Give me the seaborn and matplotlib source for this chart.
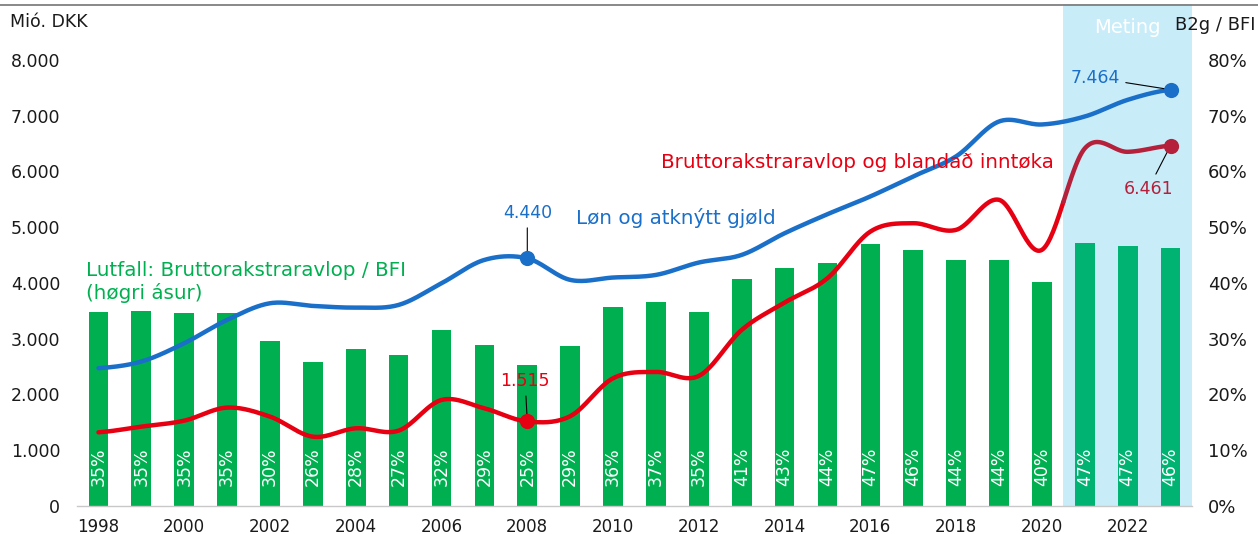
import numpy as np
import pandas as pd
import matplotlib
matplotlib.use("Agg")
import matplotlib.pyplot as plt
from matplotlib.lines import Line2D
import seaborn as sns

# Data (Mió. DKK and share in %)
years = list(range(1998, 2024))
lon = [2470, 2590, 2918, 3336, 3635, 3587, 3557, 3605, 3994, 4412, 4440, 4054, 4096,
       4143, 4365, 4502, 4890, 5232, 5550, 5910, 6269, 6894, 6840, 6983, 7282, 7464]
brutto = [1321, 1423, 1530, 1764, 1603, 1243, 1393, 1351, 1901, 1751, 1515, 1610, 2290,
          2404, 2332, 3157, 3647, 4084, 4920, 5070, 4951, 5489, 4592, 6411, 6350, 6461]
share = [34.7, 35.0, 34.6, 34.6, 29.6, 25.8, 28.2, 27.1, 31.6, 28.9, 25.3, 28.6, 35.6,
         36.6, 34.7, 40.7, 42.7, 43.6, 46.9, 45.9, 44.1, 44.1, 40.1, 47.1, 46.6, 46.2]
tick_years = [str(y) for y in years[::2]]
n_meting = 3

BLUE = '#1A6FC9'
RED = '#E60012'
DARKRED = '#B5203A'
GREEN = '#00B050'
GREEN_M = '#00B372'
SPAN = '#C9ECF9'
TXT = '#1A1A1A'


def smooth(vals, n=30):
    # Excel-style smoothed line (Catmull-Rom through the yearly values)
    xs, ys = [], []
    m = len(vals)
    for i in range(m - 1):
        p0, p1 = vals[max(i - 1, 0)], vals[i]
        p2, p3 = vals[i + 1], vals[min(i + 2, m - 1)]
        for t in np.linspace(0, 1, n, endpoint=False):
            y = 0.5 * (2 * p1 + (-p0 + p2) * t + (2 * p0 - 5 * p1 + 4 * p2 - p3) * t ** 2
                       + (-p0 + 3 * p1 - 3 * p2 + p3) * t ** 3)
            xs.append(i + t)
            ys.append(y)
    xs.append(m - 1)
    ys.append(vals[-1])
    return np.array(xs), np.array(ys)


sns.set_style('white')
plt.rcParams['font.family'] = ['DejaVu Sans']

fig = plt.figure(figsize=(12.58, 5.34), dpi=100)
ax = fig.add_axes([77 / 1258, 28 / 534, 1115 / 1258, 502 / 534])
axr = ax.twinx()

# bars (right axis)
df = pd.DataFrame({'yr': [str(y) for y in years], 'share': share})
colors = [GREEN] * (len(years) - n_meting) + [GREEN_M] * n_meting
sns.barplot(data=df, x='yr', y='share', hue='yr', palette=colors, legend=False,
            width=0.46, saturation=1, linewidth=0, edgecolor='none', ax=axr, zorder=2)
axr.axvspan(len(years) - n_meting - 0.5, len(years) - 0.5, color=SPAN, zorder=0, lw=0)
for i, v in enumerate(share):
    axr.text(i, 3.6, f"{v:.0f}%", rotation=90, ha='center', va='bottom',
             color='white', fontsize=12.5, zorder=3)
axr.set_ylim(0, 90)
axr.set_yticks(range(0, 81, 10))
axr.set_yticklabels([f"{v}%" for v in range(0, 81, 10)])
axr.tick_params(axis='y', length=0, pad=11.5, labelsize=13, labelcolor=TXT)
axr.set_ylabel('')
axr.set_xlabel('')

# lines (left axis)
sx, sy = smooth(lon)
sns.lineplot(x=sx, y=sy, ax=ax, color=BLUE, linewidth=3.2, sort=False, estimator=None)
rx, ry = smooth(brutto)
cut = len(years) - n_meting - 0.5
sns.lineplot(x=rx[rx <= cut + 0.02], y=ry[rx <= cut + 0.02], ax=ax, color=RED,
             linewidth=3.2, sort=False, estimator=None)
sns.lineplot(x=rx[rx >= cut], y=ry[rx >= cut], ax=ax, color=DARKRED,
             linewidth=3.2, sort=False, estimator=None)

i08 = years.index(2008)
ax.scatter([i08, len(years) - 1], [lon[i08], lon[-1]], s=120, color=BLUE, zorder=5, lw=0)
ax.scatter([i08], [brutto[i08]], s=120, color=RED, zorder=5, lw=0)
ax.scatter([len(years) - 1], [brutto[-1]], s=120, color=DARKRED, zorder=5, lw=0)

lead = dict(arrowstyle='-', color='black', lw=0.8, shrinkA=2, shrinkB=0)
fmt = lambda v: f"{v:,.0f}".replace(',', '.')
ax.annotate(fmt(lon[i08]), xy=(i08, lon[i08]), xytext=(i08, 5256), ha='center', va='center',
            color=BLUE, fontsize=12.5, arrowprops=lead)
ax.annotate(fmt(brutto[i08]), xy=(i08, brutto[i08]), xytext=(i08 - 0.05, 2242), ha='center',
            va='center', color=RED, fontsize=12.5, arrowprops=lead)
ax.annotate(fmt(lon[-1]), xy=(len(years) - 1, lon[-1]), xytext=(23.24, 7677), ha='center',
            va='center', color=BLUE, fontsize=12.5, arrowprops=lead)
ax.annotate(fmt(brutto[-1]), xy=(len(years) - 1, brutto[-1]), xytext=(24.48, 5686),
            ha='center', va='center', color=DARKRED, fontsize=12.5, arrowprops=lead)

ax.text(-0.29, 4018, "Lutfall: Bruttorakstraravlop / BFI\n(høgri ásur)", color=GREEN,
        fontsize=14.3, ha='left', va='center', linespacing=1.2)
ax.text(11.14, 5166, "Løn og atknýtt gjøld", color=BLUE, fontsize=14.3, ha='left', va='center')
ax.text(13.12, 6152, "Bruttorakstraravlop og blandað inntøka", color=RED, fontsize=14.3,
        ha='left', va='center')
ax.text(24.0, 8574, "Meting", color='white', fontsize=14, ha='center', va='center')

ax.set_xlim(-0.5, len(years) - 0.5)
ax.set_ylim(0, 9000)
ax.set_yticks(range(0, 8001, 1000))
ax.set_yticklabels([fmt(v) for v in range(0, 8001, 1000)])
ax.tick_params(axis='y', length=0, pad=12, labelsize=12.5, labelcolor=TXT)
ax.set_xticks(range(0, len(years), 2))
ax.set_xticklabels(tick_years)
ax.set_xticks(np.arange(-0.5, len(years), 1), minor=True)
ax.tick_params(axis='x', which='major', length=0, pad=9, labelsize=12, labelcolor=TXT)
ax.tick_params(axis='x', which='minor', length=6, width=1, color='#C8C8C8', direction='out')
ax.set_xlabel('')
ax.set_ylabel('')

for s in ['top', 'left', 'right']:
    ax.spines[s].set_visible(False)
for s in axr.spines.values():
    s.set_visible(False)
ax.spines['bottom'].set_color('#C8C8C8')
ax.spines['bottom'].set_linewidth(1)

ax.set_zorder(axr.get_zorder() + 1)
ax.patch.set_visible(False)

fig.text(10 / 1258, 1 - 22 / 534, "Mió. DKK", fontsize=12.5, color=TXT, ha='left', va='center')
fig.text(1175 / 1258, 1 - 25 / 534, "B2g / BFI", fontsize=13, color=TXT, ha='left', va='center')
fig.add_artist(Line2D([0, 1], [1 - 5 / 534] * 2, transform=fig.transFigure,
                      color='#7F7F7F', lw=1.3))

fig.savefig("out.png", dpi=100)
